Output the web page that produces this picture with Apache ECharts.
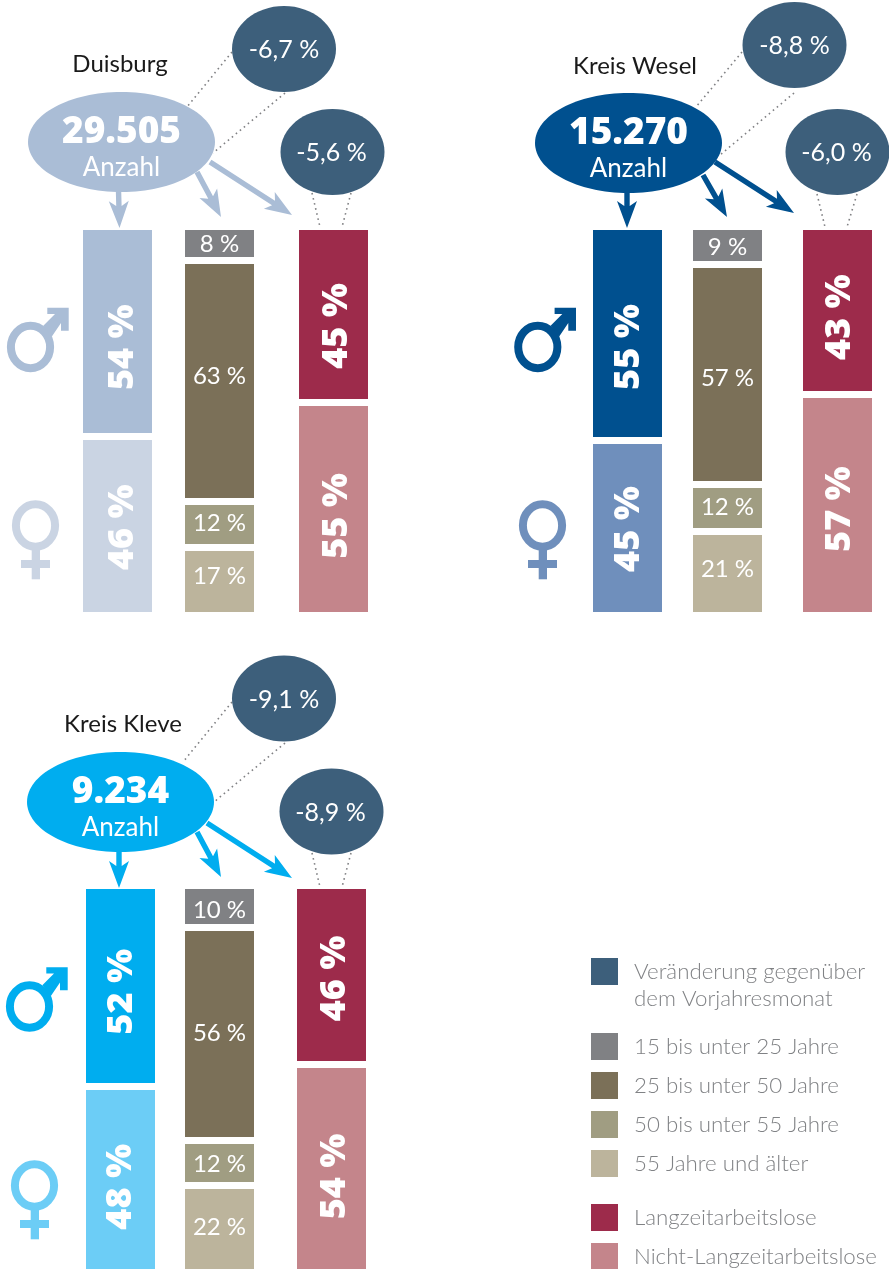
<!DOCTYPE html>
<html><head><meta charset="utf-8">
<style>html,body{margin:0;padding:0;background:#fff}#c{width:889px;height:1269px}</style>
<script src="https://cdn.jsdelivr.net/npm/echarts@6/dist/echarts.min.js"></script>
</head><body><div id="c"></div>
<script>
// ---------- data ----------
const regions = ['Duisburg', 'Kreis Wesel', 'Kreis Kleve'];
const totals = ['29.505', '15.270', '9.234'];
const totalCaption = 'Anzahl';
const changeTotal = ['-6,7 %', '-8,8 %', '-9,1 %'];
const changeLongTerm = ['-5,6 %', '-6,0 %', '-8,9 %'];
const male = [54, 55, 52];
const female = [46, 45, 48];
const age15to25 = [8, 9, 10];
const age25to50 = [63, 57, 56];
const age50to55 = [12, 12, 12];
const age55plus = [17, 21, 22];
const longTerm = [45, 43, 46];
const nonLongTerm = [55, 57, 54];
const legendChange = 'Veränderung gegenüber\ndem Vorjahresmonat';
const legendAge = ['15 bis unter 25 Jahre', '25 bis unter 50 Jahre', '50 bis unter 55 Jahre', '55 Jahre und älter'];
const legendLong = ['Langzeitarbeitslose', 'Nicht-Langzeitarbeitslose'];

// ---------- style / layout ----------
const FONT = 'Lato';
const FONT_BOLD = '"Open Sans"';
const C_BUBBLE = '#3d5f7b';
const C_AGE = ['#808184', '#7b7058', '#a09d82', '#bcb49c'];
const C_LONG = ['#9d2b4b', '#c4858b'];
const panelStyle = [
  {main: '#aabdd6', soft: '#cad4e3'},
  {main: '#00508f', soft: '#6f8fbc'},
  {main: '#00adef', soft: '#6ccdf6'}
];
const panelLayout = [
  {top: 230, h: 382, cols: [83, 185, 299], title: [120, 64],
   main: [121.5, 142], b1: [284, 49], b2: [332.5, 152], gM: [0, 0], gF: [0, 0],
   arrows: [[118.5,190, 119.5,228], [197,172, 221,217], [210,162, 292,215]],
   dots: [[232,52,187,107],[285,93,213,153],[312,193,320,227],[351,193,342,227]],
   nudgeG: [[5,14],[5,3]], nudgeA: [[0,-1],[0,-5],[0,-1],[0,-3]], nudgeL: [[3,10],[3,9]]},
  {top: 230, h: 382, cols: [593, 693, 803], title: [635, 66],
   main: [628.5, 143], b1: [794.5, 45], b2: [837.5, 152], gM: [507.3, 0], gF: [507, 0],
   arrows: [[627,191, 627,228], [703,175, 727,217], [715,162, 794,213]],
   dots: [[742,52,696,107],[794,93,720,155],[817,194,825,227],[857,194,847,227]],
   nudgeG: [[1.5,12],[1.5,3]], nudgeA: [[0,0],[0,4],[0,-1],[0,-2]], nudgeL: [[2.5,5],[2.5,6]]},
  {top: 889, h: 380, cols: [86, 185, 297], title: [123, 724],
   main: [120.5, 802], b1: [284, 698.5], b2: [331.5, 811.5], gM: [-1, 659.5], gF: [-1, 660],
   arrows: [[119,850, 119,888], [197,832, 221,877], [207,823, 292,878]],
   dots: [[232,702,183,762],[285,743,214,802],[312,853,320,887],[351,853,342,887]],
   nudgeG: [[1.5,4],[0,9]], nudgeA: [[0,2],[0,0],[0,2],[0,0]], nudgeL: [[3,2],[3,10]]}
];

// ---------- helpers ----------
function arrowPoints(x0, y0, x1, y1) {
  const L = Math.hypot(x1 - x0, y1 - y0), ux = (x1 - x0) / L, uy = (y1 - y0) / L, nx = -uy, ny = ux;
  const at = (a, b) => [x1 - ux * a + nx * b, y1 - uy * a + ny * b];
  const head = 27, half = 10, notch = 22, sw = 2.7;
  return [at(L, sw), at(notch, sw), at(head, half), at(0, 0), at(head, -half), at(notch, -sw), at(L, -sw)];
}
function textEl(x, y, text, size, weight, fill, family) {
  return {type: 'text', z: 20, silent: true, style: {x, y, text, fontSize: size, fontWeight: weight,
    fontFamily: family || FONT, fill, align: 'center', verticalAlign: 'middle'}};
}
function ellipseEl(cx, cy, rx, ry, fill, z) {
  return {type: 'ellipse', z: z || 10, silent: true, shape: {cx, cy, rx, ry}, style: {fill}};
}
function maleIcon(d, color) {
  return [
    {type: 'ellipse', z: 10, silent: true, shape: {cx: 30.5 + d[0], cy: 347 + d[1], rx: 19.6, ry: 21.2},
      style: {fill: 'none', stroke: color, lineWidth: 8}},
    {type: 'polygon', z: 10, silent: true, style: {fill: color}, shape: {points:
      [[47.3,307.7],[68.7,307.7],[68.7,330.7],[61,330.7],[61,323],[51.7,336.7],[43.3,325.7],[55,314],[47.3,314]]
        .map(p => [p[0] + d[0], p[1] + d[1]])}}
  ];
}
function femaleIcon(d, color) {
  return [
    {type: 'ellipse', z: 10, silent: true, shape: {cx: 35.5 + d[0], cy: 525.5 + d[1], rx: 19.6, ry: 21.2},
      style: {fill: 'none', stroke: color, lineWidth: 8}},
    {type: 'rect', z: 10, silent: true, shape: {x: 31.7 + d[0], y: 548 + d[1], width: 8.3, height: 31.3}, style: {fill: color}},
    {type: 'rect', z: 10, silent: true, shape: {x: 21 + d[0], y: 560 + d[1], width: 29, height: 8}, style: {fill: color}}
  ];
}

// ---------- build ----------
const grid = [], xAxis = [], yAxis = [], series = [], graphic = [];
function addColumn(panel, colIdx, segments) {
  const L = panelLayout[panel], gi = grid.length;
  const sum = segments.reduce((a, s) => a + s.value, 0);
  grid.push({left: L.cols[colIdx], width: 69, top: L.top, height: L.h});
  xAxis.push({type: 'category', gridIndex: gi, show: false, data: [regions[panel]]});
  yAxis.push({type: 'value', gridIndex: gi, show: false, inverse: true, min: 0, max: sum});
  let cum = 0; const cuts = [];
  segments.forEach((s, i) => { cum += s.value; if (i < segments.length - 1) cuts.push(cum); });
  segments.forEach((s, i) => {
    const n = s.nudge;
    const ser = {
      type: 'bar', name: s.name, xAxisIndex: gi, yAxisIndex: gi, stack: 'c' + gi, barWidth: '100%',
      data: [s.value], itemStyle: {color: s.color}, silent: true, animation: false,
      label: s.big
        ? {show: true, position: 'inside', rotate: 90, formatter: '{c} %', color: '#fff', fontFamily: FONT_BOLD,
           fontWeight: 800, fontSize: 36, offset: [-n[1], n[0]]}
        : {show: true, position: 'inside', formatter: '{c} %', color: '#fff', fontFamily: FONT,
           fontWeight: 400, fontSize: 24, offset: [n[0], n[1]]}
    };
    if (i === 0) ser.markLine = {silent: true, symbol: 'none', animation: false, z: 5, label: {show: false},
      lineStyle: {color: '#fff', width: 7, type: 'solid', opacity: 1}, data: cuts.map(v => ({yAxis: v}))};
    series.push(ser);
  });
}
regions.forEach((r, p) => {
  const L = panelLayout[p], S = panelStyle[p];
  addColumn(p, 0, [
    {name: 'Männer', value: male[p], color: S.main, big: true, nudge: L.nudgeG[0]},
    {name: 'Frauen', value: female[p], color: S.soft, big: true, nudge: L.nudgeG[1]}
  ]);
  addColumn(p, 1, [age15to25, age25to50, age50to55, age55plus].map((a, i) => (
    {name: legendAge[i], value: a[p], color: C_AGE[i], nudge: L.nudgeA[i]})));
  addColumn(p, 2, [
    {name: legendLong[0], value: longTerm[p], color: C_LONG[0], big: true, nudge: L.nudgeL[0]},
    {name: legendLong[1], value: nonLongTerm[p], color: C_LONG[1], big: true, nudge: L.nudgeL[1]}
  ]);
  L.dots.forEach(d => graphic.push({type: 'line', z: 5, silent: true,
    shape: {x1: d[0], y1: d[1], x2: d[2], y2: d[3]},
    style: {stroke: '#808184', lineWidth: 1.6, lineDash: [1.6, 3.6]}}));
  L.arrows.forEach(a => graphic.push({type: 'polygon', z: 8, silent: true,
    shape: {points: arrowPoints(a[0], a[1], a[2], a[3])}, style: {fill: S.main}}));
  graphic.push(ellipseEl(L.main[0], L.main[1], 93.5, 50, S.main));
  graphic.push(ellipseEl(L.b1[0], L.b1[1], 52, 43, C_BUBBLE));
  graphic.push(ellipseEl(L.b2[0], L.b2[1], 52, 43, C_BUBBLE));
  graphic.push(textEl(L.title[0], L.title[1], r, 24, 400, '#1a1a1a'));
  graphic.push(textEl(L.main[0], L.main[1] - 10, totals[p], 37, 800, '#fff', FONT_BOLD));
  graphic.push(textEl(L.main[0], L.main[1] + 26, totalCaption, 26, 400, '#fff'));
  graphic.push(textEl(L.b1[0], L.b1[1] + 1, changeTotal[p], 25, 400, '#fff'));
  graphic.push(textEl(L.b2[0] - 1, L.b2[1] + 1, changeLongTerm[p], 25, 400, '#fff'));
  maleIcon(L.gM, S.main).forEach(e => graphic.push(e));
  femaleIcon(L.gF, S.soft).forEach(e => graphic.push(e));
});
// empty series that only carries the legend entry for the dark bubbles
series.push({type: 'scatter', name: legendChange, xAxisIndex: 0, yAxisIndex: 0, data: [],
  itemStyle: {color: C_BUBBLE, opacity: 1}});

const legendTops = [
  [legendChange, 931, n => '\n' + n],
  [legendAge[0], 1033], [legendAge[1], 1072], [legendAge[2], 1111], [legendAge[3], 1150],
  [legendLong[0], 1204], [legendLong[1], 1243]
];
const legend = legendTops.map(l => ({
  data: [l[0]], left: 591, top: l[1], orient: 'vertical', icon: 'rect', itemWidth: 27, itemHeight: 27,
  selectedMode: false, padding: 0, itemStyle: {borderWidth: 0, opacity: 1}, formatter: l[2] || (n => n),
  textStyle: {color: '#808285', fontFamily: FONT, fontSize: 22.3, fontWeight: 300, lineHeight: 27, padding: [0, 0, 0, 11]}
}));

const chart = echarts.init(document.getElementById('c'), null, {renderer: 'canvas'});
chart.setOption({animation: false, backgroundColor: '#fff', grid, xAxis, yAxis, series, legend, graphic});
</script></body></html>
